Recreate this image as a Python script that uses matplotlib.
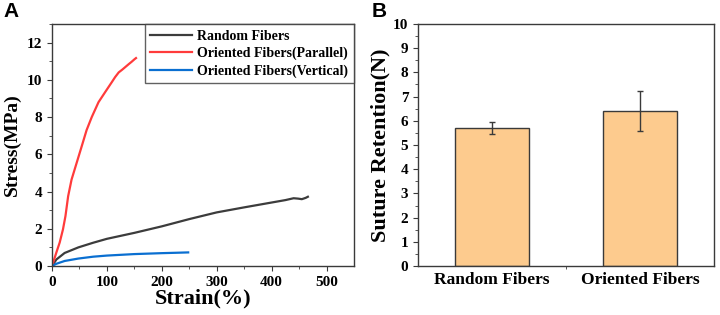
import numpy as np
import matplotlib
matplotlib.use('Agg')
import matplotlib.pyplot as plt
from matplotlib.ticker import MultipleLocator, FixedLocator

plt.rcParams['font.family'] = ['Liberation Serif', 'DejaVu Serif']
plt.rcParams['font.weight'] = 'bold'

# panel A: stress-strain curves
random_strain = [0, 8, 23, 48, 75, 100, 150, 200, 250, 300, 350, 400, 425, 440, 448, 455, 462, 466]
random_stress = [0, 0.35, 0.7, 1.0, 1.25, 1.46, 1.78, 2.13, 2.52, 2.88, 3.15, 3.41, 3.54, 3.64, 3.62, 3.59, 3.66, 3.72]

parallel_strain = [0, 8, 14, 20, 24.5, 29.4, 35.6, 44.8, 54, 63, 72.4, 84.7, 97, 109, 115, 121.5, 128, 134, 140, 145, 150, 153]
parallel_stress = [0, 0.73, 1.26, 1.97, 2.68, 3.75, 4.64, 5.53, 6.42, 7.3, 8.0, 8.8, 9.35, 9.88, 10.15, 10.4, 10.55, 10.7, 10.85, 10.97, 11.1, 11.17]

vertical_strain = [0, 8, 23, 48, 75, 100, 150, 200, 225, 248]
vertical_stress = [0, 0.12, 0.27, 0.4, 0.5, 0.56, 0.64, 0.69, 0.71, 0.73]

# panel B: suture retention
groups = ['Random Fibers', 'Oriented Fibers']
retention = [5.72, 6.42]
retention_err = [0.25, 0.83]

fig = plt.figure(figsize=(7.2, 3.15), dpi=100)
ax1 = fig.add_axes([52/720, 1 - 266/315, 302/720, 242/315])
ax2 = fig.add_axes([418/720, 1 - 266/315, 296/720, 242/315])

spine_col = '#3a3a3a'

# A
ax1.plot(random_strain, random_stress, color='#3c3c3c', lw=1.6, label='Random Fibers')
ax1.plot(parallel_strain, parallel_stress, color='#ff3b3b', lw=1.6, label='Oriented Fibers(Parallel)')
ax1.plot(vertical_strain, vertical_stress, color='#0a6fd1', lw=1.6, label='Oriented Fibers(Vertical)')
ax1.set_xlim(0, 550)
ax1.set_ylim(0, 13)
ax1.xaxis.set_major_locator(FixedLocator([0, 100, 200, 300, 400, 500]))
ax1.xaxis.set_minor_locator(FixedLocator([50, 150, 250, 350, 450]))
ax1.yaxis.set_major_locator(MultipleLocator(2))
ax1.yaxis.set_minor_locator(MultipleLocator(1))
ax1.set_xlabel('Strain(%)', fontsize=16, fontweight='bold', labelpad=0)
ax1.set_ylabel('Stress(MPa)', fontsize=14, fontweight='bold', labelpad=4)
leg = ax1.legend(loc='upper right', borderaxespad=0, fontsize=10, frameon=True,
                 fancybox=False, handlelength=3.0, handletextpad=0.4,
                 borderpad=0.4, labelspacing=0.3)
leg.get_frame().set_edgecolor(spine_col)
leg.get_frame().set_linewidth(1.0)
for t in leg.get_texts():
    t.set_fontweight('bold')

# B
x = np.arange(1, len(groups) + 1)
ax2.bar(x, retention, width=0.5, color='#fdcb8e', edgecolor='#3a3a3a', linewidth=1.0,
        yerr=retention_err, capsize=2.5, error_kw=dict(ecolor='#3a3a3a', elinewidth=1.0, capthick=1.0))
ax2.set_xlim(0.5, 2.5)
ax2.set_ylim(0, 10)
ax2.set_xticks(x)
ax2.set_xticklabels(groups)
ax2.xaxis.set_minor_locator(FixedLocator([1.5]))
ax2.yaxis.set_major_locator(MultipleLocator(1))
ax2.yaxis.set_minor_locator(MultipleLocator(0.5))
ax2.set_ylabel('Suture Retention(N)', fontsize=16, fontweight='bold', labelpad=2)

for ax in (ax1, ax2):
    for s in ax.spines.values():
        s.set_color(spine_col)
        s.set_linewidth(1.0)
    ax.tick_params(which='both', direction='out', colors=spine_col, labelcolor='black',
                   top=False, right=False)
    ax.tick_params(which='major', length=3.5, labelsize=11)
    ax.tick_params(which='minor', length=2)
    for lab in ax.get_xticklabels() + ax.get_yticklabels():
        lab.set_fontweight('bold')

ax2.tick_params(axis='x', which='major', length=0, labelsize=12.5, pad=4)

fig.text(3/720, 1 - 2/315, 'A', fontsize=15, fontweight='bold', family='Liberation Sans', va='top')
fig.text(372/720, 1 - 2/315, 'B', fontsize=15, fontweight='bold', family='Liberation Sans', va='top')

fig.savefig('out.png', dpi=100)
